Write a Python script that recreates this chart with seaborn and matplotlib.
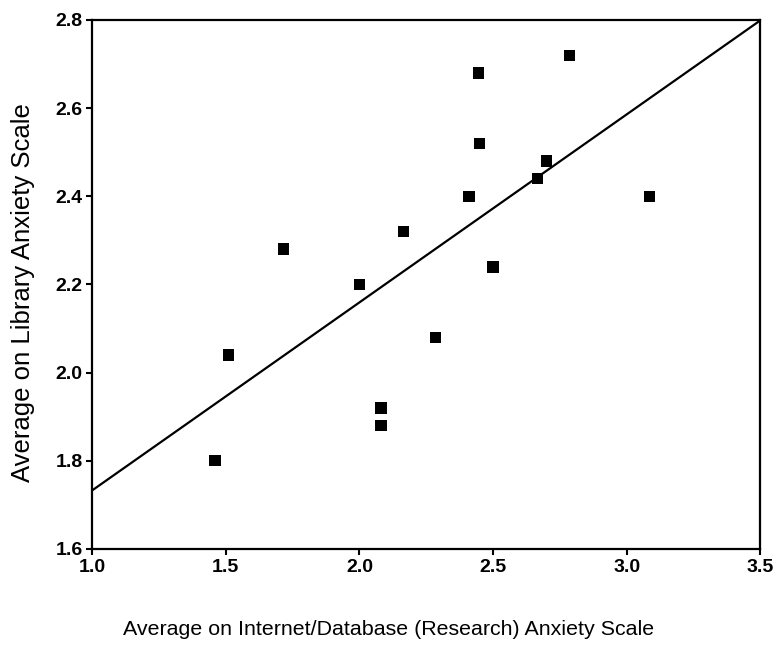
import pandas as pd
import matplotlib
matplotlib.use("Agg")
import matplotlib.pyplot as plt
import seaborn as sns

# Valores
internet_anx = [1.46, 1.51, 1.715, 2.00, 2.08, 2.08, 2.165, 2.285,
                2.41, 2.446, 2.45, 2.50, 2.667, 2.70, 2.787, 3.086]
library_anx = [1.80, 2.04, 2.28, 2.20, 1.92, 1.88, 2.32, 2.08,
               2.40, 2.68, 2.52, 2.24, 2.44, 2.48, 2.72, 2.40]
x_ticks = [1.0, 1.5, 2.0, 2.5, 3.0, 3.5]
y_ticks = [1.6, 1.8, 2.0, 2.2, 2.4, 2.6, 2.8]

df = pd.DataFrame({"internet": internet_anx, "library": library_anx})

sns.set_style("white")
plt.rcParams['font.family'] = ['Liberation Sans', 'DejaVu Sans']

fig = plt.figure(figsize=(7.75, 6.45), dpi=100)
ax = fig.add_axes([0.119, 0.149, 0.862, 0.82])
ax.set_xlim(1.0, 3.5)
ax.set_ylim(1.6, 2.8)

# recta de regresión extendida a todo el eje
sns.regplot(data=df, x="internet", y="library", ax=ax, ci=None, truncate=False,
            marker="s",
            scatter_kws={"s": 68, "color": "black", "edgecolors": "none", "alpha": 1},
            line_kws={"color": "black", "linewidth": 1.6})

ax.set_xlim(1.0, 3.5)
ax.set_ylim(1.6, 2.8)
ax.set_xticks(x_ticks)
ax.set_yticks(y_ticks)
ax.set_xticklabels([f"{t:.1f}" for t in x_ticks], fontweight="bold", fontsize=14, color="black")
ax.set_yticklabels([f"{t:.1f}" for t in y_ticks], fontweight="bold", fontsize=14, color="black")
ax.tick_params(bottom=True, left=True, direction="out", length=4, width=1.5,
               color="black", pad=3)

for sp in ax.spines.values():
    sp.set_color("black")
    sp.set_linewidth(1.6)

ax.set_xlabel("Average on Internet/Database (Research) Anxiety Scale",
              fontsize=15.4, color="black")
ax.xaxis.set_label_coords(0.443, -0.135)
ax.set_ylabel("Average on Library Anxiety Scale", fontsize=18.5, color="black")
ax.yaxis.set_label_coords(-0.086, 0.484)

plt.savefig("out.png", dpi=100)
